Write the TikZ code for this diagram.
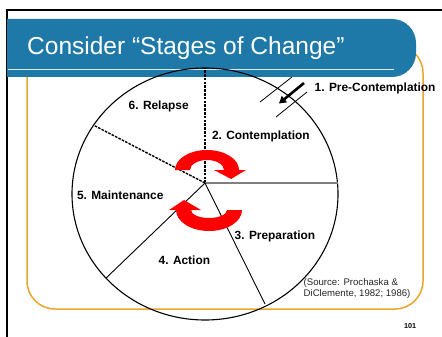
\documentclass[tikz,border=0pt]{standalone}
\usepackage{fontspec}
\setmainfont{Liberation Sans}
\usetikzlibrary{arrows.meta}
\definecolor{bluec}{HTML}{1E79A9}
\definecolor{orangec}{HTML}{EBA52D}
\definecolor{grayc}{HTML}{7F7F7F}
\begin{document}
\begin{tikzpicture}[x=1pt,y=-1pt,
  lbl/.style={font=\fontsize{11.9}{14}\selectfont\bfseries, inner sep=0pt, anchor=base west},
  srcstyle/.style={font=\fontsize{9.6}{11}\selectfont, inner sep=0pt, anchor=base west, text=black!85},
  spoke/.style={line width=0.9pt},
  dspoke/.style={line width=1.4pt, dash pattern=on 2.6pt off 1.2pt},
  cyc/.style={fill=red, draw=none},
  tick/.style={line width=0.8pt}]
\useasboundingbox (0,0) rectangle (442,337);
\fill[white] (0,0) rectangle (442,337);
% frame
\draw[line width=1.5pt] (7,337) -- (7,10) -- (442,10);
% orange rounded frame
\draw[orangec, line width=1.5pt, rounded corners=28pt] (27,45) rectangle (423,309);
% title bar
\fill[bluec] (7,19) -- (392,19) arc[start angle=-90, end angle=0, radius=24] -- (416,53)
  arc[start angle=0, end angle=90, radius=24] -- (7,77) -- cycle;
\draw[white!85!bluec, line width=1pt] (8,69.5) -- (394,69.5);
\node[anchor=base west, text=white, font=\fontsize{24.5}{28}\selectfont, inner sep=0pt] (title) at (27,54.5) {Consider “Stages of Change”};
% pie
\coordinate (c) at (205,194);
\coordinate (hub) at (205,183);
\coordinate (ptop) at (205,68);
\coordinate (pright) at (337.5,183);
\coordinate (pul) at (93.6,125.2);
\coordinate (pll) at (106,278.1);
\coordinate (plr) at (265,304);
\draw[line width=1.1pt] (c) ellipse [x radius=133, y radius=126];
\draw[dspoke] (hub) -- (ptop);
\draw[dspoke] (hub) -- (pul);
\draw[grayc, line width=1.2pt] (hub) -- (pright);
\draw[spoke] (hub) -- (pll);
\draw[spoke] (hub) -- (plr);
% cycle arrows
\fill[cyc] (175,170) arc[start angle=180, end angle=360, x radius=32, y radius=20]
  -- (246,170) -- (231,179) -- (214,170) -- (224,170)
  arc[start angle=360, end angle=180, x radius=17, y radius=10] -- cycle;
\fill[cyc] (242,210) arc[start angle=0, end angle=180, x radius=33, y radius=21]
  -- (169,210) -- (184,200) -- (201,210) -- (191,210)
  arc[start angle=180, end angle=0, x radius=18, y radius=8] -- cycle;
% pre-contemplation marker
\coordinate (t1a) at (260,102); \coordinate (t1b) at (292,77);
\coordinate (t2a) at (276,117); \coordinate (t2b) at (307,92);
\draw[tick] (t1a) -- (t1b);
\draw[tick] (t2a) -- (t2b);
\coordinate (ma) at (304,83); \coordinate (mb) at (279,103.5);
\draw[line width=2.6pt, -{Triangle[length=7pt,width=8pt]}] (ma) -- (mb);
% labels
\node[lbl] (l1) at (314.5,91.5) {1. Pre-Contemplation};
\node[lbl] (l2) at (211.8,139.3) {2. Contemplation};
\node[lbl] (l3) at (234.5,239.3) {3. Preparation};
\node[lbl] (l4) at (158.5,264.3) {4. Action};
\node[lbl] (l5) at (76.8,199) {5. Maintenance};
\node[lbl] (l6) at (128.5,109.3) {6. Relapse};
\node[srcstyle] (src1) at (303.5,285) {(Source: Prochaska \&};
\node[srcstyle] (src2) at (303.5,296) {DiClemente, 1982; 1986)};
\node[font=\fontsize{7.2}{9}\selectfont\bfseries, inner sep=0pt, anchor=base west] (pg) at (404,328.7) {101};
\end{tikzpicture}
\end{document}
